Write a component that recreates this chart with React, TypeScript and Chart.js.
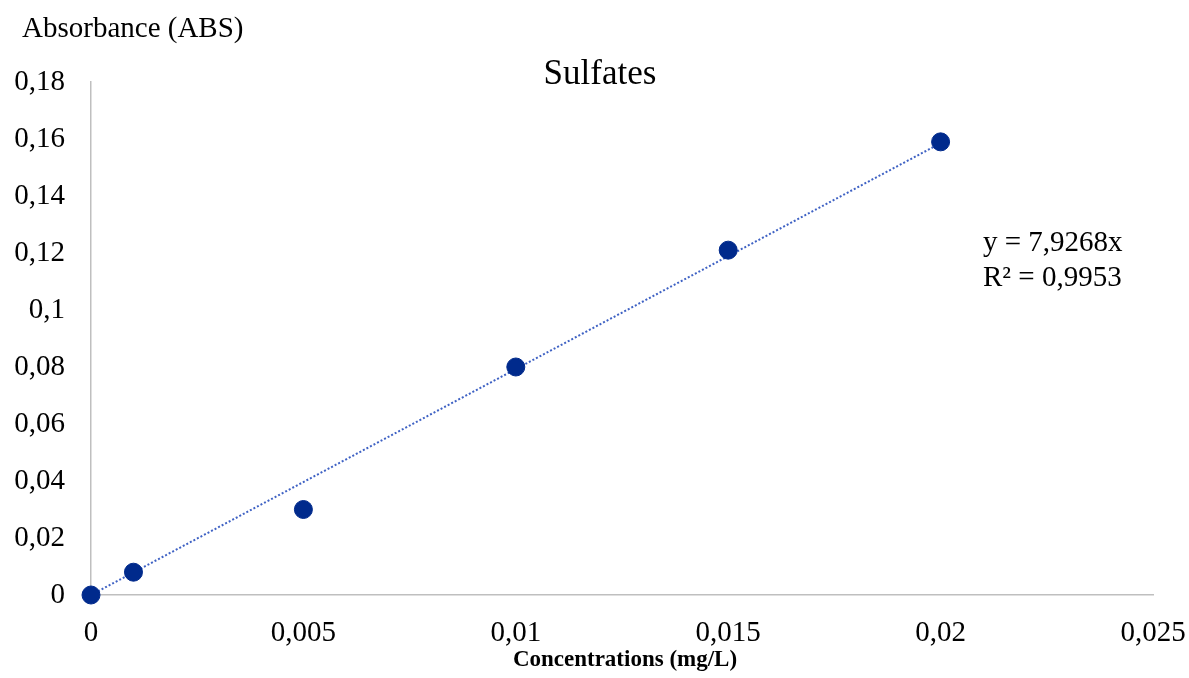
import React, { useEffect, useRef } from 'react';
import { Chart, registerables } from 'chart.js';

Chart.register(...registerables);

const concentrations = [0, 0.001, 0.005, 0.01, 0.015, 0.02];
const absorbances = [0, 0.008, 0.03, 0.08, 0.121, 0.159];
const trendX = [0, 0.02];
const trendY = [0, 0.158536];
const xTicks = [0, 0.005, 0.01, 0.015, 0.02, 0.025];
const yTicks = [0, 0.02, 0.04, 0.06, 0.08, 0.1, 0.12, 0.14, 0.16, 0.18];
const chartTitle = 'Sulfates';
const xTitle = 'Concentrations (mg/L)';
const yTitle = 'Absorbance (ABS)';
const equationLines = ['y = 7,9268x', 'R² = 0,9953'];

const SERIF = '"Liberation Serif", "Times New Roman", serif';

const fmt = (v: number) => String(v).replace('.', ',');

const textPlugin = {
  id: 'textOverlay',
  afterDraw(chart: any) {
    const ctx = chart.ctx as CanvasRenderingContext2D;
    ctx.save();
    ctx.fillStyle = '#000';
    ctx.textBaseline = 'alphabetic';
    ctx.font = `29px ${SERIF}`;
    ctx.textAlign = 'left';
    ctx.fillText(yTitle, 22, 37);
    ctx.font = `35px ${SERIF}`;
    ctx.textAlign = 'center';
    ctx.fillText(chartTitle, 600, 84);
    ctx.font = `29px ${SERIF}`;
    ctx.textAlign = 'left';
    ctx.fillText(equationLines[0], 983, 251);
    ctx.fillText(equationLines[1], 983, 286);
    ctx.font = `bold 23px ${SERIF}`;
    ctx.textAlign = 'center';
    ctx.fillText(xTitle, 625, 666);
    ctx.restore();
  },
};

export default function App() {
  const ref = useRef<HTMLCanvasElement>(null);

  useEffect(() => {
    if (!ref.current) return;
    const chart = new Chart(ref.current, {
      type: 'scatter',
      data: {
        datasets: [
          {
            label: 'Absorbance',
            data: concentrations.map((c, i) => ({ x: c, y: absorbances[i] })),
            backgroundColor: '#002A8C',
            borderColor: '#002A8C',
            pointRadius: 9,
            pointHoverRadius: 9,
            clip: false as any,
          },
          {
            label: 'Trend',
            data: trendX.map((c, i) => ({ x: c, y: trendY[i] })),
            showLine: true,
            borderColor: '#3F62C4',
            borderWidth: 2,
            borderDash: [2, 2],
            pointRadius: 0,
            fill: false,
          } as any,
        ],
      },
      options: {
        responsive: false,
        animation: false,
        devicePixelRatio: 1,
        layout: { padding: { top: 82, right: 36, left: 0, bottom: 0 } },
        plugins: {
          legend: { display: false },
          tooltip: { enabled: false },
          title: { display: false },
        },
        scales: {
          x: {
            type: 'linear',
            min: 0,
            max: 0.025,
            afterBuildTicks: (s: any) => {
              s.ticks = xTicks.map((v) => ({ value: v }));
            },
            afterFit: (s: any) => {
              s.height = 83;
              s.paddingLeft = 0;
              s.paddingRight = 0;
            },
            ticks: {
              callback: (v: any) => fmt(Number(v)),
              font: { family: SERIF, size: 29 },
              color: '#000',
              padding: 21,
              maxRotation: 0,
              autoSkip: false,
            },
            grid: { display: false, drawTicks: false },
            border: { display: true, color: '#BFBFBF', width: 1.5 },
          },
          y: {
            type: 'linear',
            min: 0,
            max: 0.18,
            afterBuildTicks: (s: any) => {
              s.ticks = yTicks.map((v) => ({ value: v }));
            },
            afterFit: (s: any) => {
              s.width = 91;
              s.paddingTop = 0;
              s.paddingBottom = 0;
            },
            ticks: {
              callback: (v: any) => fmt(Number(v)),
              font: { family: SERIF, size: 29 },
              color: '#000',
              padding: 26,
              autoSkip: false,
            },
            grid: { display: false, drawTicks: false },
            border: { display: true, color: '#BFBFBF', width: 1.5 },
          },
        },
      },
      plugins: [textPlugin],
    });
    return () => chart.destroy();
  }, []);

  return (
    <div
      style={{
        position: 'fixed',
        left: 0,
        top: 0,
        width: 1189,
        height: 678,
        background: '#fff',
      }}
    >
      <canvas ref={ref} width={1189} height={678} style={{ display: 'block' }} />
    </div>
  );
}
